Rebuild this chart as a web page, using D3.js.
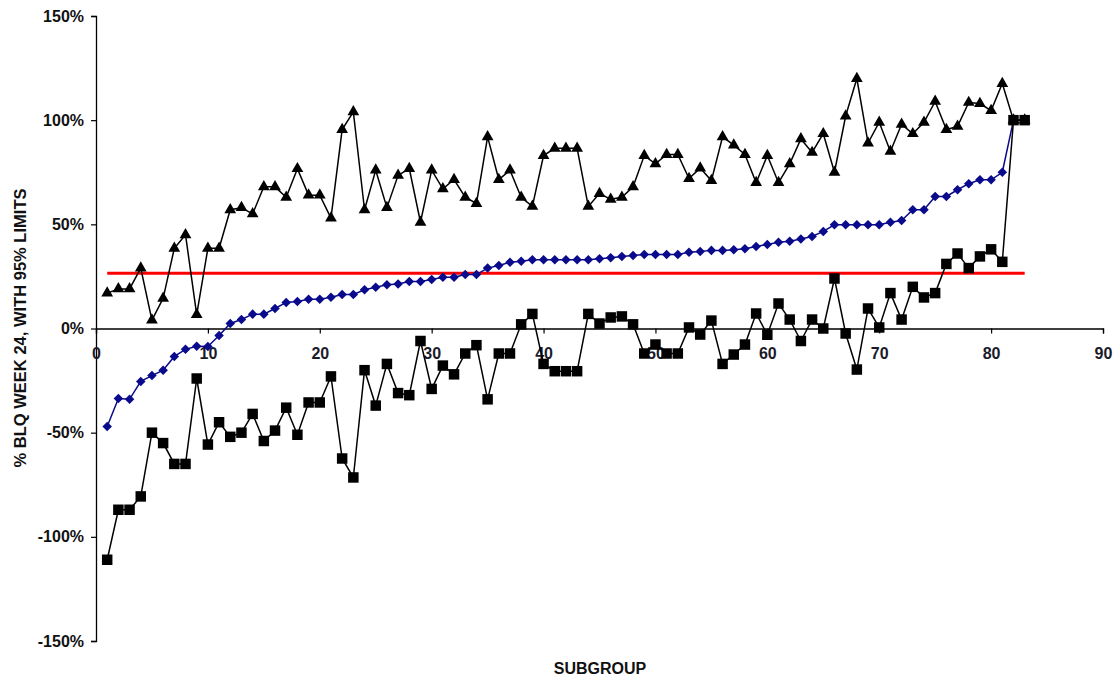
<!DOCTYPE html>
<html>
<head>
<meta charset="utf-8">
<script src="https://cdn.jsdelivr.net/npm/d3@7"></script>
<style>
  html, body { margin: 0; padding: 0; background: #fff; }
  svg { display: block; }
  text { font-family: "Liberation Sans", Arial, sans-serif; font-weight: bold; }
</style>
</head>
<body>
<svg id="chart" width="1120" height="686"></svg>
<script>
// ---- data (percent values) ----
const subgroups = d3.range(1, 84); // 1..83
const upperLimit = [17,19,19,29,4,14.5,38.5,45,6.7,38.5,
  38.5,57,58,55,68,68,63,76.7,64,64,
  53,95.5,104,57,76,58,73.5,76.8,51,76,
  67,71.5,63,60,92,71.5,76,63,58.6,83,
  86.5,86.5,86.5,58.6,64.8,62,63,68,83,79,
  83.5,83.5,72,77,71,92,88,83.5,70,83,
  70,79,91,84.5,93.5,75,102,120,89,99,
  85,98,93.5,99,109,95.5,97,108.5,108,104.6,
  117.6,100,100];
const meanValue = [-47,-33.6,-34,-25.4,-22.6,-20,-13.4,-10,-8.5,-8.6,
  -3.4,2.4,4.3,6.9,6.9,9.6,12.5,13,14,14,
  15,16.3,16.3,18.6,19.8,21,21.4,22.6,22.6,23.5,
  24.6,24.6,25.9,25.9,29,30.2,31.8,32.3,33,33,
  33,33,33,33,33.5,34,34.6,35,35.5,35.5,
  35.5,35.5,36.6,37,37.5,37.5,37.8,38.3,39.4,40.3,
  41.4,41.9,43,44.2,46.6,49.8,49.8,49.8,49.8,49.8,
  51,51.8,57,57,63.4,63.4,66.6,69.5,71.4,71.4,
  75,100,100];
const lowerLimit = [-111,-87,-87,-80.6,-50,-55,-65,-65,-24,-55.7,
  -45,-52,-50,-41,-54,-49,-38,-51,-35.5,-35.5,
  -23,-62.4,-71.5,-20,-37,-17,-31,-32,-6,-29,
  -17.8,-22,-12,-8,-34,-12,-12,2,7,-17,
  -20.5,-20.5,-20.5,7,2.4,5.3,5.8,2,-12,-7.7,
  -12,-12,0.5,-2.9,3.8,-17,-12.5,-7.7,7.2,-3,
  12,4.3,-6,4.3,0,24,-2.4,-19.7,9.6,0.5,
  17,4.3,20,14.9,17,31,36,29,34.6,38,
  32,100,100];
const overallRate = 26.5;
const overallRange = [1, 83];
const xTicks = [0,10,20,30,40,50,60,70,80,90];
const yTicks = [-150,-100,-50,0,50,100,150];
const xTitle = "SUBGROUP";
const yTitle = "% BLQ WEEK 24, WITH 95% LIMITS";

// ---- layout ----
const svg = d3.select("#chart");
const x = d3.scaleLinear().domain([0, 90]).range([96, 1103]);
const y = d3.scaleLinear().domain([-150, 150]).range([641, 16]);

// y axis
const yAxis = d3.axisLeft(y).tickValues(yTicks).tickSize(5).tickPadding(7)
  .tickFormat(d => d + "%");
const gy = svg.append("g").attr("transform", `translate(${x(0)},0)`).call(yAxis);
gy.select(".domain").attr("stroke", "#000").attr("stroke-width", 1.3);
gy.selectAll(".tick line").attr("stroke", "#000").attr("stroke-width", 1.2);
gy.selectAll(".tick text").attr("fill", "#111").style("font-size", "16px")
  .style("font-family", '"Liberation Sans", Arial, sans-serif').style("font-weight", "bold");

// x axis (crosses at 0%)
const xAxis = d3.axisBottom(x).tickValues(xTicks).tickSize(5).tickPadding(14)
  .tickFormat(d3.format("d"));
const gx = svg.append("g").attr("transform", `translate(0,${y(0)})`).call(xAxis);
gx.select(".domain").attr("stroke", "#000").attr("stroke-width", 1.3);
gx.selectAll(".tick line").attr("stroke", "#000").attr("stroke-width", 1.2);
gx.selectAll(".tick text").attr("fill", "#1a1a2a").style("font-size", "16px")
  .style("font-family", '"Liberation Sans", Arial, sans-serif').style("font-weight", "bold");

// titles
svg.append("text").attr("x", 600).attr("y", 674).attr("text-anchor", "middle")
  .style("font-size", "16px").attr("fill", "#111").text(xTitle);
svg.append("text").attr("transform", "translate(26,328) rotate(-90)")
  .attr("text-anchor", "middle").style("font-size", "16px").attr("fill", "#111")
  .attr("textLength", 279).attr("lengthAdjust", "spacingAndGlyphs").text(yTitle);

// reference line
svg.append("line")
  .attr("x1", x(overallRange[0])).attr("x2", x(overallRange[1]))
  .attr("y1", y(overallRate)).attr("y2", y(overallRate))
  .attr("stroke", "#ff0000").attr("stroke-width", 3);

const line = d3.line().x((d, i) => x(subgroups[i])).y(d => y(d));

// mean series (blue diamonds)
svg.append("path").datum(meanValue).attr("d", line)
  .attr("fill", "none").attr("stroke", "#0a0a8c").attr("stroke-width", 1.5);
svg.append("g").selectAll("path").data(meanValue).join("path")
  .attr("d", d3.symbol().type(d3.symbolDiamond2).size(58))
  .attr("transform", (d, i) => `translate(${x(subgroups[i])},${y(d)})`)
  .attr("fill", "#0a0a8c");

// upper limit (triangles)
svg.append("path").datum(upperLimit).attr("d", line)
  .attr("fill", "none").attr("stroke", "#000").attr("stroke-width", 1.5);
svg.append("g").selectAll("path").data(upperLimit).join("path")
  .attr("d", d3.symbol().type(d3.symbolTriangle).size(60))
  .attr("transform", (d, i) => `translate(${x(subgroups[i])},${y(d)})`)
  .attr("fill", "#000");

// lower limit (squares)
svg.append("path").datum(lowerLimit).attr("d", line)
  .attr("fill", "none").attr("stroke", "#000").attr("stroke-width", 1.5);
svg.append("g").selectAll("path").data(lowerLimit).join("path")
  .attr("d", d3.symbol().type(d3.symbolSquare).size(110))
  .attr("transform", (d, i) => `translate(${x(subgroups[i])},${y(d)})`)
  .attr("fill", "#000");
</script>
</body>
</html>
